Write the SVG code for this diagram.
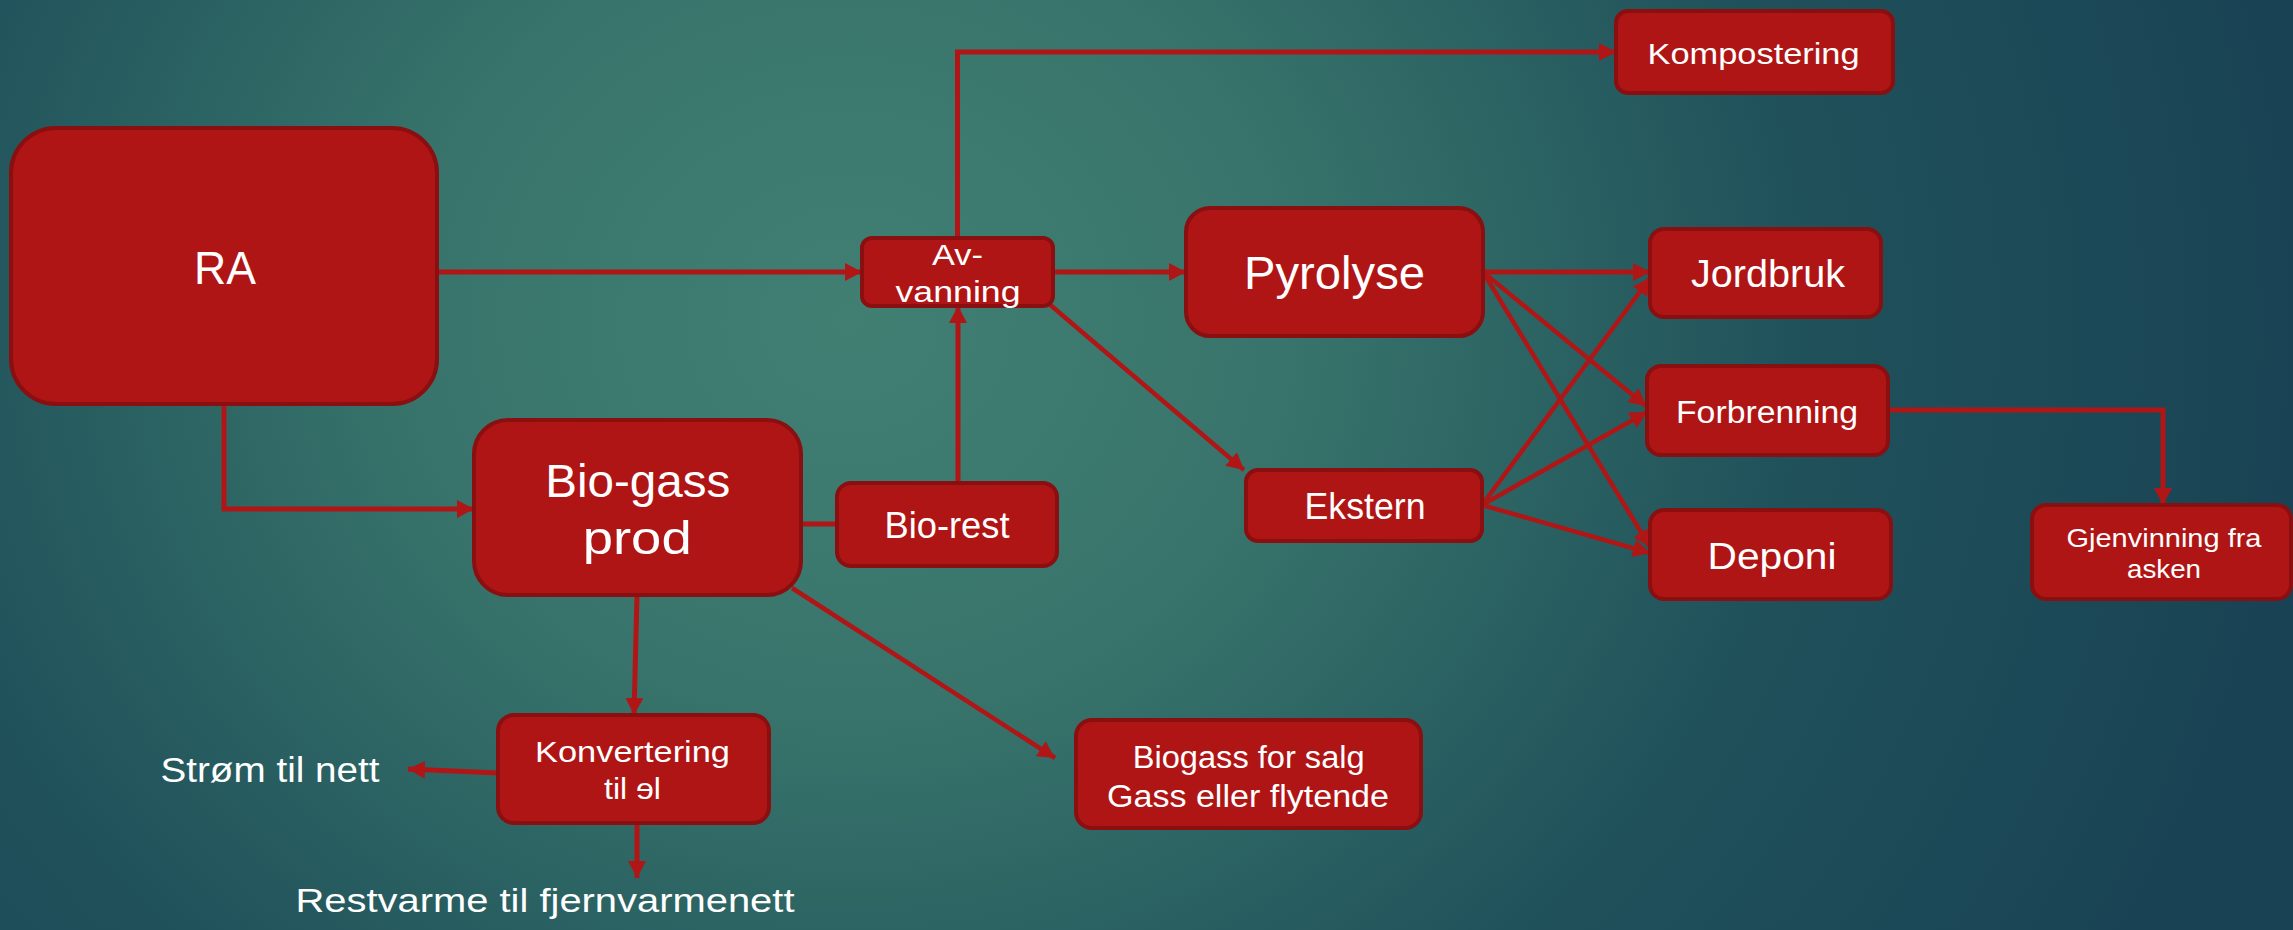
<svg xmlns="http://www.w3.org/2000/svg" width="2293" height="930" viewBox="0 0 2293 930">
<defs>
<radialGradient id="bg" cx="850" cy="320" r="1450" gradientUnits="userSpaceOnUse" gradientTransform="translate(850 320) scale(1 0.9) translate(-850 -320)">
<stop offset="0" stop-color="#417F73"/>
<stop offset="0.3" stop-color="#38746B"/>
<stop offset="0.65" stop-color="#20525B"/>
<stop offset="1" stop-color="#194354"/>
</radialGradient>
<marker id="ah" markerUnits="userSpaceOnUse" markerWidth="18" markerHeight="18" refX="17" refY="9" orient="auto">
<path d="M0,0 L17,9 L0,18 z" fill="#B01616"/>
</marker>
<style>
.box{fill:#B01515;stroke:#8A0F10;stroke-width:4}
.t{fill:#FFFFFF;font-family:"Liberation Sans",Arial,sans-serif;text-anchor:middle}
.ln{fill:none;stroke:#B01616;stroke-width:5}
.lt{fill:none;stroke:#B01616;stroke-width:4.5}
</style>
</defs>
<rect x="0" y="0" width="2293" height="930" fill="url(#bg)"/>

<g id="connectors">
<line class="ln" x1="437" y1="272" x2="862" y2="272" marker-end="url(#ah)"/>
<line class="ln" x1="1053" y1="272" x2="1186" y2="272" marker-end="url(#ah)"/>
<polyline class="ln" points="957.5,238 957.5,52 1616,52" marker-end="url(#ah)"/>
<line class="lt" x1="1048" y1="303" x2="1244" y2="470" marker-end="url(#ah)"/>
<line class="ln" x1="958" y1="483" x2="958" y2="306" marker-end="url(#ah)"/>
<line class="ln" x1="801" y1="524" x2="837" y2="524"/>
<polyline class="ln" points="224,404 224,509 474,509" marker-end="url(#ah)"/>
<line class="ln" x1="637" y1="595" x2="634" y2="715" marker-end="url(#ah)"/>
<line class="lt" x1="792" y1="588" x2="1055" y2="758" marker-end="url(#ah)"/>
<line class="ln" x1="498" y1="773" x2="408" y2="769" marker-end="url(#ah)"/>
<line class="ln" x1="637" y1="823" x2="637" y2="878" marker-end="url(#ah)"/>
<line class="ln" x1="1483" y1="272" x2="1650" y2="272" marker-end="url(#ah)"/>
<line class="lt" x1="1483" y1="272" x2="1646" y2="406" marker-end="url(#ah)"/>
<line class="lt" x1="1483" y1="272" x2="1650" y2="547" marker-end="url(#ah)"/>
<line class="lt" x1="1482" y1="505" x2="1650" y2="278" marker-end="url(#ah)"/>
<line class="lt" x1="1482" y1="505" x2="1647" y2="412" marker-end="url(#ah)"/>
<line class="lt" x1="1482" y1="505" x2="1650" y2="553" marker-end="url(#ah)"/>
<polyline class="ln" points="1888,410 2163,410 2163,505" marker-end="url(#ah)"/>
</g>

<g id="node-ra">
<rect class="box" x="11" y="128" width="426" height="276" rx="45" ry="45"/>
<text class="t" x="225" y="284" font-size="46" textLength="62" lengthAdjust="spacingAndGlyphs">RA</text>
</g>
<g id="node-avvanning">
<rect class="box" x="862" y="238" width="191" height="68" rx="10" ry="10"/>
<text class="t" x="957.5" y="265" font-size="30" textLength="51" lengthAdjust="spacingAndGlyphs">Av-</text>
<text class="t" x="958" y="302" font-size="30" textLength="125" lengthAdjust="spacingAndGlyphs">vanning</text>
</g>
<g id="node-pyrolyse">
<rect class="box" x="1186" y="208" width="297" height="128" rx="24" ry="24"/>
<text class="t" x="1334.5" y="289" font-size="46" textLength="181" lengthAdjust="spacingAndGlyphs">Pyrolyse</text>
</g>
<g id="node-kompostering">
<rect class="box" x="1616" y="11" width="277" height="82" rx="12" ry="12"/>
<text class="t" x="1753.6" y="64" font-size="30" textLength="212" lengthAdjust="spacingAndGlyphs">Kompostering</text>
</g>
<g id="node-jordbruk">
<rect class="box" x="1650" y="229" width="231" height="88" rx="14" ry="14"/>
<text class="t" x="1768" y="287" font-size="38" textLength="154" lengthAdjust="spacingAndGlyphs">Jordbruk</text>
</g>
<g id="node-forbrenning">
<rect class="box" x="1647" y="366" width="241" height="89" rx="14" ry="14"/>
<text class="t" x="1767" y="423" font-size="31" textLength="182" lengthAdjust="spacingAndGlyphs">Forbrenning</text>
</g>
<g id="node-deponi">
<rect class="box" x="1650" y="510" width="241" height="89" rx="14" ry="14"/>
<text class="t" x="1772" y="569" font-size="37" textLength="129" lengthAdjust="spacingAndGlyphs">Deponi</text>
</g>
<g id="node-gjenvinning">
<rect class="box" x="2032" y="505" width="259" height="94" rx="14" ry="14"/>
<text class="t" x="2164" y="547" font-size="25" textLength="195" lengthAdjust="spacingAndGlyphs">Gjenvinning fra</text>
<text class="t" x="2164" y="578" font-size="25" textLength="74" lengthAdjust="spacingAndGlyphs">asken</text>
</g>
<g id="node-ekstern">
<rect class="box" x="1246" y="470" width="236" height="71" rx="12" ry="12"/>
<text class="t" x="1365" y="519" font-size="36" textLength="121" lengthAdjust="spacingAndGlyphs">Ekstern</text>
</g>
<g id="node-biorest">
<rect class="box" x="837" y="483" width="220" height="83" rx="14" ry="14"/>
<text class="t" x="947" y="538" font-size="37" textLength="125" lengthAdjust="spacingAndGlyphs">Bio-rest</text>
</g>
<g id="node-biogass-salg">
<rect class="box" x="1076" y="720" width="345" height="108" rx="16" ry="16"/>
<text class="t" x="1248.7" y="768" font-size="31" textLength="232" lengthAdjust="spacingAndGlyphs">Biogass for salg</text>
<text class="t" x="1248" y="807" font-size="31" textLength="282" lengthAdjust="spacingAndGlyphs">Gass eller flytende</text>
</g>
<g id="node-biogass-prod">
<rect class="box" x="474" y="420" width="327" height="175" rx="34" ry="34"/>
<text class="t" x="637.7" y="497" font-size="46" textLength="185" lengthAdjust="spacingAndGlyphs">Bio-gass</text>
<text class="t" x="637.2" y="554" font-size="46" textLength="109" lengthAdjust="spacingAndGlyphs">prod</text>
</g>
<g id="node-konvertering">
<rect class="box" x="498" y="715" width="271" height="108" rx="16" ry="16"/>
<text class="t" x="632.5" y="762" font-size="30" textLength="195" lengthAdjust="spacingAndGlyphs">Konvertering</text>
<text class="t" x="632.5" y="799" font-size="30" textLength="57" lengthAdjust="spacingAndGlyphs">til ɘl</text>
</g>
<g id="label-strom">
<text class="t" x="270" y="782" font-size="35" textLength="219" lengthAdjust="spacingAndGlyphs">Strøm til nett</text>
</g>
<g id="label-restvarme">
<text class="t" x="545" y="912" font-size="34" textLength="499" lengthAdjust="spacingAndGlyphs">Restvarme til fjernvarmenett</text>
</g>
</svg>
